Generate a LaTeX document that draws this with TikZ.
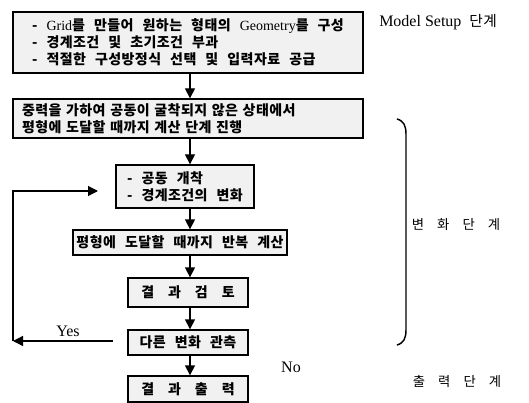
\documentclass[tikz,border=0pt]{standalone}
\usepackage{fontspec}
\setmainfont{Liberation Serif}
\newfontfamily\kr{Noto Sans CJK KR}[WordSpace=2.5,LetterSpace=3]
\newcommand\wsp{\hspace{0.35em}}
\usetikzlibrary{arrows.meta}
\begin{document}
\begin{tikzpicture}[x=0.75pt,y=-0.75pt,
  box/.style={draw, line width=1pt, fill=gray!11, inner sep=0pt, font=\kr\bfseries\fontsize{10.5}{12.9}\selectfont},
  arr/.style={line width=1pt, -{Triangle[width=7.5pt,length=7.5pt]}},
  lbl/.style={font=\fontsize{12}{14}\selectfont, inner sep=0pt},
  klbl/.style={font=\kr\fontsize{10}{12}\selectfont, inner sep=0pt}]
\useasboundingbox (0,0) rectangle (529,403);
\node[box, minimum width=262.5pt, minimum height=45.75pt, align=left] (b1) at (188,42.5)
  {- {\rmfamily\mdseries Grid}를 만들어 원하는 형태의 {\rmfamily\mdseries Geometry}를 구성\\- 경계조건 및 초기조건 부과\\- 적절한 구성방정식 선택 및 입력자료 공급};
\node[box, minimum width=262.5pt, minimum height=29.25pt, text width=249pt, align=left] (b2) at (188,118.5)
  {중력을 가하여 공동이 굴착되지 않은 상태에서\\평형에 도달할 때까지 계산 단계 진행};
\node[box, minimum width=103.5pt, minimum height=32.25pt, align=left] (b3) at (185,186.5)
  {- 공동 개착\\- 경계조건의 변화};
\node[box, minimum width=160.5pt, minimum height=18.75pt] (b4) at (180,242.5) {평형에 도달할 때까지 반복 계산};
\node[box, minimum width=90pt, minimum height=21.75pt] (b5) at (188,292.5) {결 \wsp{}과 \wsp{}검 \wsp{}토};
\node[box, minimum width=90pt, minimum height=18.75pt] (b6) at (188,342.5) {다른 변화 관측};
\node[box, minimum width=90pt, minimum height=19.5pt] (b7) at (188,389) {결 \wsp{}과 \wsp{}출 \wsp{}력};
\coordinate (ax) at (190,0);
\draw[arr] (b1.south -| ax) -- (b2.north -| ax);
\draw[arr] (b2.south -| ax) -- (b3.north -| ax);
\draw[arr] (b3.south -| ax) -- (b4.north -| ax);
\draw[arr] (b4.south -| ax) -- (b5.north -| ax);
\draw[arr] (b5.south -| ax) -- (b6.north -| ax);
\draw[arr] (b6.south -| ax) -- (b7.north -| ax);
\coordinate (yesS) at (113,341);
\coordinate (yesE) at (13,341);
\coordinate (topL) at (13,191);
\coordinate (topE) at (98,191);
\draw[arr] (yesS) -- (yesE);
\draw[arr] (yesE) -- (topL) -- (topE);
\draw[line width=1.1pt] (397,119) .. controls (404,121) and (406,126) .. (406,134) -- (406,330) .. controls (406,338) and (404,343) .. (397,345);
\node[lbl, anchor=west] (ms) at (379,22) {Model Setup\hspace{6pt}{\kr\fontsize{11}{13}\selectfont 단계}};
\node[klbl] (bh) at (456,225) {변 \wsp{}화 \wsp{}단 \wsp{}계};
\node[klbl] (ch) at (457,381) {출 \wsp{}력 \wsp{}단 \wsp{}계};
\node[lbl] (yes) at (68,331) {Yes};
\node[lbl] (no) at (291,367) {No};
\end{tikzpicture}
\end{document}
